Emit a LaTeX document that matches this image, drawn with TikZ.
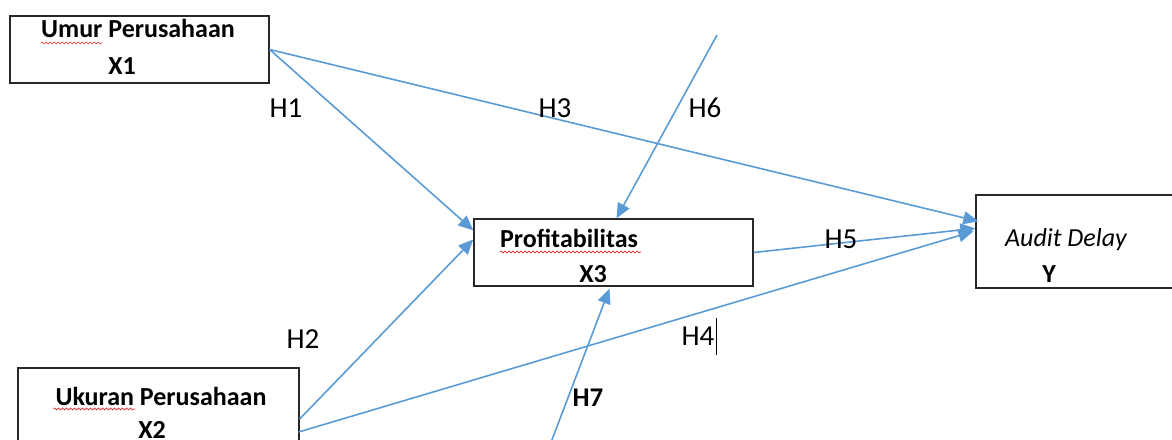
\documentclass[tikz,border=0pt]{standalone}
\usepackage{fontspec}
\setmainfont{Carlito}
\usetikzlibrary{arrows.meta,calc,decorations.pathmorphing}
\definecolor{linkblue}{RGB}{91,155,213}
\definecolor{boxline}{RGB}{40,40,40}
\definecolor{spellred}{RGB}{230,40,40}
\tikzset{
  varbox/.style={draw=boxline, line width=1.3pt, inner sep=0pt, fill=white},
  boxtext/.style={inner sep=0pt, anchor=base, font=\fontsize{26}{28}\selectfont\bfseries},
  hyplabel/.style={inner sep=0pt, font=\fontsize{29}{31}\selectfont},
  link/.style={draw=linkblue, line width=1.6pt,
    -{Triangle[length=15pt,width=13pt]}},
  squiggle/.style={draw=spellred, line width=0.6pt,
    decorate, decoration={snake, segment length=4pt, amplitude=1pt}}
}
\begin{document}
\begin{tikzpicture}[x=1pt, y=-1pt]
\useasboundingbox (0,0) rectangle (1172,439);
\clip (0,0) rectangle (1172,439);

% variable boxes
\node[varbox, minimum width=259pt, minimum height=67pt] (x1) at (139.5,49.5) {};
\node[varbox, minimum width=279pt, minimum height=67pt] (x3) at (613.5,252.5) {};
\node[varbox, minimum width=204pt, minimum height=93pt] (yv) at (1078,241.5) {};
\node[varbox, minimum width=281pt, minimum height=102pt] (x2) at (158.5,419) {};

% box captions (placed by baseline)
\node[boxtext] (x1name) at (138,37) {Umur Perusahaan};
\node[boxtext] (x1code) at (122,74) {X1};
\node[boxtext] (x3name) at (569,247) {Profitabilitas};
\node[boxtext] (x3code) at (593,282) {X3};
\node[boxtext, font=\fontsize{26}{28}\selectfont\itshape] (yname) at (1066,246) {Audit Delay};
\node[boxtext] (ycode) at (1049,282) {Y};
\node[boxtext] (x2name) at (161,405) {Ukuran Perusahaan};
\node[boxtext] (x2code) at (152,438) {X2};

% spell-check underlines
\draw[squiggle] ($(x1name.base west)+(0,6)$) -- ++(61,0);
\draw[squiggle] ($(x3name.base west)+(0,5)$) -- ($(x3name.base east)+(3,5)$);
\draw[squiggle] ($(x2name.base west)+(-2,4)$) -- ++(82,0);

% free ends of the moderating paths
\coordinate (h6start) at (717,35);
\coordinate (h7start) at (550,445);

% paths between variables
\draw[link] (x1.east) -- ($(x3.north west)+(0,12)$);
\draw[link] (x1.east) -- ($(yv.north west)+(3,27)$);
\draw[link] (x2.east) -- ($(x3.north west)+(0,21)$);
\draw[link] ($(x2.east)+(-1,13)$) -- ($(yv.north west)+(-2,37)$);
\draw[link] (x3.east) -- ($(yv.north west)+(0,34)$);
\draw[link] (h6start) -- ($(x3.north)+(3,0)$);
\draw[link] (h7start) -- ($(x3.south)+(-4,2)$);

% hypothesis labels
\node[hyplabel] (h1) at (286,108) {H1};
\node[hyplabel] (h3) at (555,108) {H3};
\node[hyplabel] (h6) at (705,108) {H6};
\node[hyplabel] (h5) at (841,239) {H5};
\node[hyplabel] (h2) at (303,339) {H2};
\node[hyplabel] (h4) at (698,336) {H4};
\node[boxtext, font=\fontsize{27}{29}\selectfont\bfseries] (h7) at (588,406) {H7};

% text cursor after H4
\draw[line width=1pt, black] ($(h4.east)+(2,-18)$) -- ($(h4.east)+(2,19)$);
\end{tikzpicture}
\end{document}
